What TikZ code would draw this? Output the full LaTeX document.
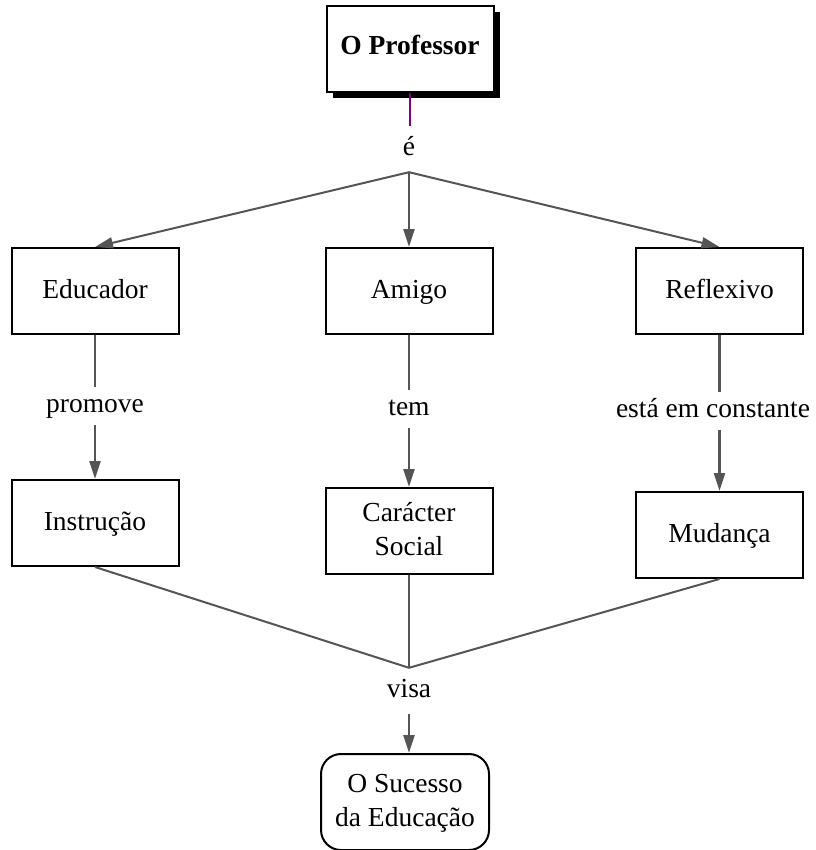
\documentclass[tikz,border=0pt]{standalone}
\usepackage{fontspec}
\setmainfont{Liberation Serif}
\usetikzlibrary{arrows.meta,shadows}
\definecolor{linkgray}{HTML}{555555}
\definecolor{linkpurple}{HTML}{800080}

\begin{document}
\begin{tikzpicture}
      [x=1pt, y=-1pt,
      every node/.style={font=\fontsize{27.5}{34}\selectfont},
      concept/.style={draw, line width=2pt, minimum width=167pt, minimum height=86pt, align=center, fill=white,
        text height=21pt, text depth=6pt},
      twolines/.style={text height=54pt, text depth=6pt},
      linkword/.style={inner sep=0pt, minimum height=38pt, text height=19pt, text depth=6pt},
      link/.style={draw=linkgray, line width=2pt},
      arrow/.style={link, line width=2.5pt, -{Triangle[length=18pt,width=11pt]}}]

      \useasboundingbox (0,0) rectangle (815,850);

      \node[concept, font=\fontsize{27.5}{34}\selectfont\bfseries, text height=17pt,
        drop shadow={shadow xshift=6pt, shadow yshift=-6pt, fill=black, opacity=1}]
        (prof) at (410,49.5) {O Professor};
      \node[linkword, minimum height=46pt] (e) at (409,149) {é};

      \node[concept] (edu) at (95,291) {Educador};
      \node[concept] (amigo) at (409,291) {Amigo};
      \node[concept] (refl) at (719.5,291) {Reflexivo};

      \node[linkword] (promove) at (95,406) {promove};
      \node[linkword] (tem) at (409,409) {tem};
      \node[linkword] (muda) at (713,411) {está em constante};

      \node[concept] (instr) at (95,523) {Instrução};
      \node[concept, twolines] (social) at (409,531) {Carácter\\Social};
      \node[concept] (mud) at (719.5,535) {Mudança};

      \node[linkword, minimum height=46pt] (visa) at (409,691) {visa};
      \node[concept, twolines, rounded corners=20pt, minimum width=168pt, minimum height=96pt]
        (goal) at (405,802) {O Sucesso\\da Educação};

      % o professor e ...
      \draw[draw=linkpurple, line width=2pt] (prof.south) -- (prof.south |- e.north);
      \draw[arrow, line width=2pt] (e.south) -- (edu.north);
      \draw[arrow] (e.south) -- (amigo.north);
      \draw[arrow, line width=2pt] (e.south) -- (refl.north);

      % segunda linha
      \draw[link, line width=2.5pt] (edu.south) -- (promove.north);
      \draw[arrow] (promove.south) -- (instr.north);
      \draw[link] (amigo.south) -- (tem.north);
      \draw[arrow] (tem.south) -- (social.north);
      \draw[link, line width=2.5pt] (refl.south) -- (refl.south |- muda.north);
      \draw[arrow] (refl.south |- muda.south) -- (mud.north);

      % visa
      \draw[link] (instr.south) -- (visa.north);
      \draw[link] (social.south) -- (visa.north);
      \draw[link] (mud.south) -- (visa.north);
      \draw[arrow] (visa.south) -- (visa.south |- goal.north);
    \end{tikzpicture}
\end{document}
